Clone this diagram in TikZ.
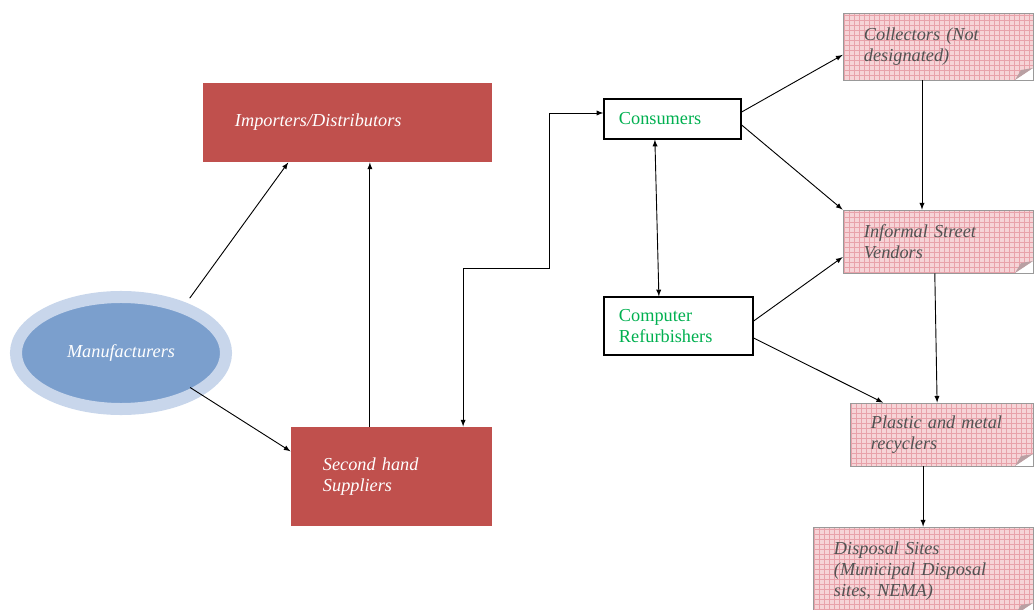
\documentclass[tikz,border=0pt]{standalone}
\usepackage{fontspec}
\setmainfont{Liberation Serif}
\usetikzlibrary{shapes.geometric}
\definecolor{boxred}{HTML}{C0504D}
\definecolor{ovalblue}{HTML}{7B9FCD}
\definecolor{ovalpale}{HTML}{C8D6EB}
\definecolor{textgreen}{HTML}{00B050}
\definecolor{notepink}{HTML}{F6D4D7}
\definecolor{gridred}{HTML}{E8A2AA}
\definecolor{foldgray}{HTML}{B9A0A3}
\newcommand{\boxfont}{\fontsize{13}{15}\selectfont}

\begin{document}
\begin{tikzpicture}
  [
    x=0.025cm, y=-0.025cm,
    ->,
    >=latex,
    line width=0.65pt,
    red box/.style={rectangle, fill=boxred, text=white, font=\boxfont\itshape, align=left, inner xsep=0.8cm},
    oval node/.style={ellipse, fill=ovalblue, draw=ovalpale, line width=0.3cm, minimum width=5.25cm, minimum height=2.8cm, inner sep=0pt, text=white, font=\boxfont\itshape},
    green box/.style={rectangle, draw=black, line width=0.9pt, fill=white, text=textgreen, font=\boxfont, align=left, inner xsep=0.375cm},
    note box/.style={rectangle, draw=gray!80, line width=0.5pt, fill=notepink, text=black!68, font=\boxfont\itshape, align=left, inner xsep=0.525cm,
      path picture={
        \draw[-, gridred, line width=0.35pt, step=0.125cm] (path picture bounding box.south west) grid (path picture bounding box.north east);
        \fill[white] ([xshift=-0.45cm]path picture bounding box.south east) -- (path picture bounding box.south east) -- ([yshift=0.3cm]path picture bounding box.south east) -- cycle;
        \fill[foldgray] ([xshift=-0.45cm]path picture bounding box.south east) -- ([yshift=0.3cm]path picture bounding box.south east) -- ([xshift=-0.3cm,yshift=0.25cm]path picture bounding box.south east) -- cycle;
      }}
  ]
  \clip (0,0) rectangle (1034,610);

  \node[red box, text width=5.625cm, minimum height=1.975cm] (imp) at (347.5,122.5) {Importers/Distributors};
  \node[red box, text width=3.425cm, minimum height=2.475cm] (sec) at (391.5,476.5) {Second hand\\Suppliers};
  \node[oval node] (oval) at (121,353) {Manufacturers};
  \node[green box, text width=2.675cm, minimum height=1cm] (con) at (672.5,119) {Consumers\\[-3pt]};
  \node[green box, text width=2.975cm, minimum height=1.45cm] (ref) at (678.5,326) {Computer\\Refurbishers};
  \node[note box, text width=3.7cm, minimum height=1.675cm] (col) at (938,46.5) {Collectors (Not\\designated)};
  \node[note box, text width=3.7cm, minimum height=1.575cm] (inf) at (938,241.5) {Informal Street\\Vendors};
  \node[note box, text width=3.525cm, minimum height=1.575cm] (pla) at (941.5,434.5) {Plastic and metal\\recyclers};
  \node[note box, text width=4.45cm, minimum height=2.2cm] (dis) at (923,571) {Disposal Sites\\(Municipal Disposal\\sites, NEMA)};
  \coordinate (bend) at (549,268);

  \draw ([xshift=0.18cm,yshift=0.08cm]oval.40) -- (imp.214);
  \draw ([xshift=-0.2cm,yshift=0.25cm]oval.-30) -- (sec.166);
  \draw ([xshift=-0.54cm]sec.north) -- ([xshift=-0.54cm]sec.north |- imp.south);
  \draw[<->] ([xshift=1.79cm]sec.north) |- (bend) |- ([yshift=0.15cm]con.west);
  \draw[<->] ([xshift=-0.44cm]con.south) -- ([xshift=-0.49cm]ref.north);
  \draw ([yshift=0.175cm]con.east) -- ([yshift=-0.21cm]col.west);
  \draw ([yshift=-0.15cm]con.east) -- (inf.north west);
  \draw ([xshift=-0.4cm]col.south) -- ([xshift=-0.4cm]col.south |- inf.north);
  \draw ([yshift=0.125cm]ref.east) -- ([yshift=-0.39cm]inf.west);
  \draw ([yshift=-0.3cm]ref.east) -- ([xshift=-1.46cm]pla.north);
  \draw ([xshift=-0.08cm]inf.south) -- ([xshift=-0.11cm]pla.north);
  \draw ([xshift=-0.46cm]pla.south) -- ([xshift=-0.46cm]pla.south |- dis.north);
\end{tikzpicture}
\end{document}
